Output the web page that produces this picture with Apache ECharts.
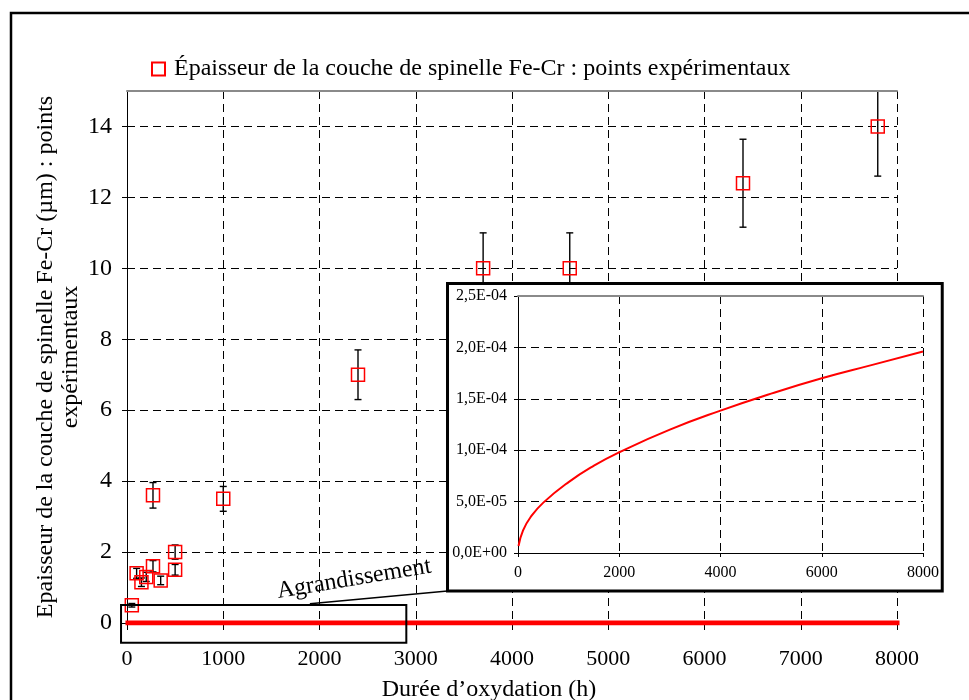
<!DOCTYPE html>
<html>
<head>
<meta charset="utf-8">
<script src="https://cdn.jsdelivr.net/npm/echarts@6/dist/echarts.min.js"></script>
<style>html,body{margin:0;padding:0;background:#fff}#c{width:969px;height:700px}</style>
</head>
<body>
<div id="c"></div>
<script>
// Experimental points: oxidation time (h), spinel thickness (µm), error bar half-width (µm)
const pointTimes  = [50, 100, 150, 200, 270, 270, 350, 500, 500, 1000, 2400, 3700, 4600, 6400, 7800];
const pointValues = [0.5, 1.4, 1.15, 1.3, 3.6, 1.6, 1.2, 2.0, 1.5, 3.5, 7.0, 10.0, 10.0, 12.4, 14.0];
const pointErrors = [0.05, 0.14, 0.12, 0.13, 0.36, 0.16, 0.12, 0.2, 0.15, 0.35, 0.7, 1.0, 1.0, 1.24, 1.4];
// Model curve
const modelTimes  = [10, 100, 250, 500, 1000, 1500, 2000, 3000, 4000, 5000, 6000, 7000, 8000];
const modelValues = [0.068e-4, 0.22e-4, 0.35e-4, 0.49e-4, 0.69e-4, 0.85e-4, 0.98e-4, 1.20e-4, 1.385e-4, 1.55e-4, 1.70e-4, 1.83e-4, 1.96e-4];
// Axis ticks [min, max, interval]
const mainXTicks = [0, 8000, 1000];
const mainYTicks = [0, 15, 2];
const insetXTicks = [0, 8000, 2000];
const insetYTicks = [0, 2.5e-4, 5e-5];

const FONT = "'Liberation Serif','Times New Roman',serif";
const legendName = 'Épaisseur de la couche de spinelle Fe-Cr : points expérimentaux';

const pts = pointTimes.map((t, i) => [t, pointValues[i]]);
const errs = pointTimes.map((t, i) => [t, pointValues[i], pointErrors[i]]);
const model = modelTimes.map((t, i) => [t, modelValues[i]]);

function sciFmt(v) {
  if (Math.abs(v) < 1e-12) return '0,0E+00';
  const s = v.toExponential(1);
  const parts = s.split('e');
  const e = parseInt(parts[1], 10);
  const sign = e < 0 ? '-' : '+';
  const n = Math.abs(e);
  return parts[0].replace('.', ',') + 'E' + sign + (n < 10 ? '0' : '') + n;
}
const plainFmt = v => String(Math.round(v));

const dashed = { type: [8, 5], color: '#000', width: 1 };

const chart = echarts.init(document.getElementById('c'), null, { renderer: 'canvas' });
const option = {
  backgroundColor: '#fff',
  animation: false,
  textStyle: { fontFamily: FONT },
  legend: {
    data: [legendName],
    left: 146, top: 52,
    itemWidth: 13, itemHeight: 13,
    textStyle: { fontFamily: FONT, fontSize: 24, color: '#000', padding: [0, 0, 0, 4] }
  },
  grid: [
    { left: 127, right: 72, top: 91, bottom: 77, outerBoundsMode: 'none', containLabel: false },
    { left: 518, right: 46, top: 296, bottom: 147, outerBoundsMode: 'none', containLabel: false }
  ],
  xAxis: [
    {
      gridIndex: 0, type: 'value', min: mainXTicks[0], max: mainXTicks[1], interval: mainXTicks[2],
      name: 'Durée d’oxydation (h)', nameLocation: 'middle', nameGap: 55, nameMoveOverlap: false,
      nameTextStyle: { fontFamily: FONT, fontSize: 24, color: '#000', padding: [0, 46, 0, 0] },
      axisLine: { show: true, lineStyle: { color: '#000', width: 1 } },
      axisTick: { show: true, length: 7, lineStyle: { color: '#000' } },
      axisLabel: { fontFamily: FONT, fontSize: 22, color: '#000', margin: 25, formatter: plainFmt },
      splitLine: { show: true, lineStyle: dashed }
    },
    {
      gridIndex: 0, type: 'value', position: 'top', min: mainXTicks[0], max: mainXTicks[1], z: 3,
      axisLine: { show: true, lineStyle: { color: '#8a8a8a', width: 2 } },
      axisTick: { show: false }, axisLabel: { show: false }, splitLine: { show: false }
    },
    {
      gridIndex: 1, type: 'value', min: insetXTicks[0], max: insetXTicks[1], interval: insetXTicks[2], z: 10,
      axisLine: { show: true, lineStyle: { color: '#000', width: 1 } },
      axisTick: { show: true, length: 4, lineStyle: { color: '#000' } },
      axisLabel: { fontFamily: FONT, fontSize: 16, color: '#000', margin: 12, formatter: plainFmt },
      splitLine: { show: true, lineStyle: dashed }
    },
    {
      gridIndex: 1, type: 'value', position: 'top', min: insetXTicks[0], max: insetXTicks[1], z: 11,
      axisLine: { show: true, lineStyle: { color: '#8a8a8a', width: 2 } },
      axisTick: { show: false }, axisLabel: { show: false }, splitLine: { show: false }
    }
  ],
  yAxis: [
    {
      gridIndex: 0, type: 'value', min: mainYTicks[0], max: mainYTicks[1], interval: mainYTicks[2],
      name: 'Epaisseur de la couche de spinelle Fe-Cr (µm) : points\nexpérimentaux',
      nameLocation: 'middle', nameGap: 44, nameMoveOverlap: false,
      nameTextStyle: { fontFamily: FONT, fontSize: 24, color: '#000', lineHeight: 25, align: 'center' },
      axisLine: { show: true, lineStyle: { color: '#000', width: 1 } },
      axisTick: { show: true, length: 5, lineStyle: { color: '#000' } },
      axisLabel: { fontFamily: FONT, fontSize: 24, color: '#000', margin: 15, showMaxLabel: false },
      splitLine: { show: true, lineStyle: dashed }
    },
    {
      gridIndex: 1, type: 'value', min: insetYTicks[0], max: insetYTicks[1], interval: insetYTicks[2], z: 10,
      axisLine: { show: true, lineStyle: { color: '#000', width: 1 } },
      axisTick: { show: true, length: 4, lineStyle: { color: '#000' } },
      axisLabel: { fontFamily: FONT, fontSize: 16, color: '#000', margin: 11, formatter: sciFmt },
      splitLine: { show: true, lineStyle: dashed }
    }
  ],
  series: [
    {
      name: 'model', type: 'line', xAxisIndex: 0, yAxisIndex: 0, data: model,
      showSymbol: false, symbol: 'none', smooth: true, z: 2,
      lineStyle: { color: '#ff0000', width: 5, cap: 'square' }
    },
    {
      name: 'errors', type: 'custom', xAxisIndex: 0, yAxisIndex: 0, data: errs, z: 2, clip: true,
      renderItem: function (params, api) {
        const x = api.value(0), y = api.value(1), e = api.value(2);
        const top = api.coord([x, y + e]);
        const bot = api.coord([x, y - e]);
        const w = 3.5;
        const st = { stroke: '#000', lineWidth: 1.4 };
        return {
          type: 'group', children: [
            { type: 'line', shape: { x1: top[0], y1: top[1], x2: bot[0], y2: bot[1] }, style: st },
            { type: 'line', shape: { x1: top[0] - w, y1: top[1], x2: top[0] + w, y2: top[1] }, style: st },
            { type: 'line', shape: { x1: bot[0] - w, y1: bot[1], x2: bot[0] + w, y2: bot[1] }, style: st }
          ]
        };
      }
    },
    {
      name: legendName, type: 'scatter', xAxisIndex: 0, yAxisIndex: 0, data: pts, z: 3,
      symbol: 'rect', symbolSize: 13,
      itemStyle: { color: 'rgba(255,255,255,0)', borderColor: '#ff0000', borderWidth: 1.5, opacity: 1 }
    },
    {
      name: 'model-inset', type: 'line', xAxisIndex: 2, yAxisIndex: 1, data: model,
      showSymbol: false, symbol: 'none', smooth: true, z: 12,
      lineStyle: { color: '#ff0000', width: 2 }
    }
  ]
};
chart.setOption(option);

// Annotations (zoom box, inset frame, connector, label) placed via data coordinates
const p = (t, v) => chart.convertToPixel({ gridIndex: 0 }, [t, v]);
const boxA = p(-62, 0.51), boxB = p(2902, -0.56);
const insetA = p(3330, 9.57), insetB = p(8470, 0.9);
const conA = p(1900, 0.54);
chart.setOption({
  graphic: [
    { type: 'rect', z: 0, silent: true, shape: { x: 11, y: 13, width: 1100, height: 1000 },
      style: { fill: 'none', stroke: '#000', lineWidth: 2.5 } },
    { type: 'rect', z: 5, silent: true,
      shape: { x: boxA[0], y: boxA[1], width: boxB[0] - boxA[0], height: boxB[1] - boxA[1] },
      style: { fill: 'none', stroke: '#000', lineWidth: 2 } },
    { type: 'rect', z: 6, silent: true,
      shape: { x: insetA[0], y: insetA[1], width: insetB[0] - insetA[0], height: insetB[1] - insetA[1] },
      style: { fill: '#fff', stroke: '#000', lineWidth: 3 } },
    { type: 'line', z: 6, silent: true,
      shape: { x1: conA[0], y1: conA[1], x2: insetA[0], y2: insetB[1] },
      style: { stroke: '#000', lineWidth: 1.5 } },
    { type: 'text', z: 20, silent: true, x: 354, y: 579, rotation: 9.5 * Math.PI / 180,
      style: { text: 'Agrandissement', font: "24px 'Liberation Serif'", fill: '#000', align: 'center', verticalAlign: 'middle' } }
  ]
});
</script>
</body>
</html>
